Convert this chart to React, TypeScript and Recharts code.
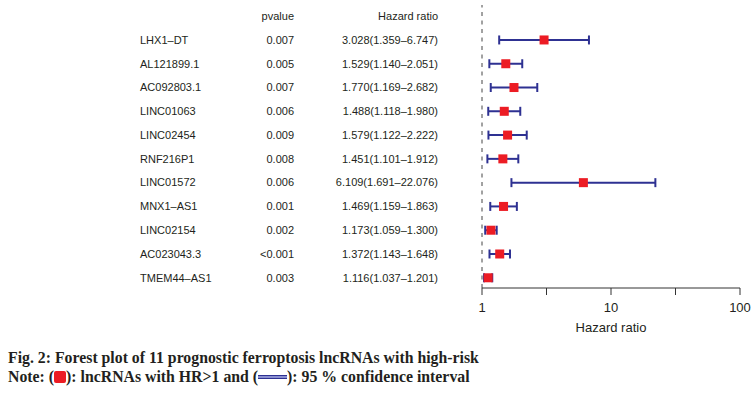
import { ScatterChart, Scatter, XAxis, YAxis, ErrorBar, ReferenceLine } from "recharts";

const genes = [
  "LHX1–DT",
  "AL121899.1",
  "AC092803.1",
  "LINC01063",
  "LINC02454",
  "RNF216P1",
  "LINC01572",
  "MNX1–AS1",
  "LINC02154",
  "AC023043.3",
  "TMEM44–AS1",
];
const pvalues = ["0.007", "0.005", "0.007", "0.006", "0.009", "0.008", "0.006", "0.001", "0.002", "<0.001", "0.003"];
const hazard = [3.028, 1.529, 1.77, 1.488, 1.579, 1.451, 6.109, 1.469, 1.173, 1.372, 1.116];
const lower = [1.359, 1.14, 1.169, 1.118, 1.122, 1.101, 1.691, 1.159, 1.059, 1.143, 1.037];
const upper = [6.747, 2.051, 2.682, 1.98, 2.222, 1.912, 22.076, 1.863, 1.3, 1.648, 1.201];
const xTicks = [1, 3.1623, 10, 31.623, 100];
const rowTicks = [-1, 0, 1, 2, 3, 4, 5, 6, 7, 8, 9, 10];

const rows = genes.map((g, i) => ({
  gene: g,
  idx: i,
  hr: hazard[i],
  err: [hazard[i] - lower[i], upper[i] - hazard[i]],
  label: `${hazard[i].toFixed(3)}(${lower[i].toFixed(3)}–${upper[i].toFixed(3)})`,
}));

const NAVY = "#2E3192";
const RED = "#EC1C24";
const INK = "#231F20";

function RowLabel(props: any) {
  const { y, payload } = props;
  const i = payload.value;
  if (i === -1) {
    return (
      <g fontSize={11} fill={INK}>
        <text x={294} y={y} dy="0.35em" textAnchor="end">pvalue</text>
        <text x={438} y={y} dy="0.35em" textAnchor="end">Hazard ratio</text>
      </g>
    );
  }
  const r = rows[i];
  if (!r) return null;
  return (
    <g fontSize={11} fill={INK}>
      <text x={140} y={y} dy="0.35em" textAnchor="start">{r.gene}</text>
      <text x={294} y={y} dy="0.35em" textAnchor="end">{pvalues[i]}</text>
      <text x={438} y={y} dy="0.35em" textAnchor="end">{r.label}</text>
    </g>
  );
}

function Square(props: any) {
  const { cx, cy } = props;
  return <rect x={cx - 4.5} y={cy - 4.5} width={9} height={9} fill={RED} />;
}

export default function App() {
  return (
    <div
      style={{
        position: "absolute",
        left: 0,
        top: 0,
        width: 753,
        height: 393,
        background: "#fff",
        fontFamily: "'Liberation Sans', Arial, sans-serif",
      }}
    >
      <ScatterChart width={753} height={340} margin={{ top: 5, right: 13, bottom: 5, left: 0 }}>
        <XAxis
          dataKey="hr"
          type="number"
          scale="log"
          domain={[1, 100]}
          allowDataOverflow
          ticks={xTicks}
          tickFormatter={(v: number) => (v === 1 || v === 10 || v === 100 ? String(v) : "")}
          tick={{ fill: INK, fontSize: 13 }}
          tickSize={7}
          tickMargin={8}
          height={47}
          stroke="#333"
          label={{ value: "Hazard ratio", position: "insideBottom", offset: 3, fill: INK, fontSize: 13 }}
        />
        <YAxis
          dataKey="idx"
          type="number"
          reversed
          domain={[-1.47, 10.43]}
          allowDataOverflow
          ticks={rowTicks}
          interval={0}
          width={482}
          axisLine={false}
          tickLine={false}
          tick={<RowLabel />}
        />
        <ReferenceLine x={1} stroke="#444" strokeDasharray="4 4.5" />
        <Scatter data={rows} shape={<Square />} isAnimationActive={false}>
          <ErrorBar dataKey="err" direction="x" width={4.5} stroke={NAVY} strokeWidth={2} isAnimationActive={false} />
        </Scatter>
      </ScatterChart>
      <div
        style={{
          position: "absolute",
          left: 8,
          top: 348,
          fontFamily: "'Liberation Serif', 'Times New Roman', serif",
          fontWeight: "bold",
          fontSize: 15.8,
          lineHeight: "19px",
          color: INK,
          whiteSpace: "nowrap",
        }}
      >
        <div>Fig. 2: Forest plot of 11 prognostic ferroptosis lncRNAs with high-risk</div>
        <div>
          Note: (
          <span
            style={{
              display: "inline-block",
              width: 12,
              height: 12,
              background: RED,
              borderRadius: 2,
              verticalAlign: "-1px",
            }}
          />
          ): lncRNAs with HR&gt;1 and (
          <span
            style={{
              display: "inline-block",
              width: 29,
              height: 4,
              background: `linear-gradient(${NAVY} 0 30%, #8A8FD0 30% 70%, ${NAVY} 70% 100%)`,
              verticalAlign: "3px",
            }}
          />
          ): 95 % confidence interval
        </div>
      </div>
    </div>
  );
}
